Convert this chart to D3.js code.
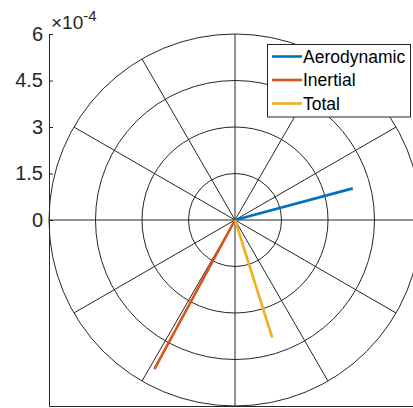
<!DOCTYPE html>
<html>
<head>
<meta charset="utf-8">
<script src="https://cdn.jsdelivr.net/npm/d3@7"></script>
<style>
  html, body { margin: 0; padding: 0; background: #fff; }
  svg { display: block; font-family: "Liberation Sans", Arial, Helvetica, sans-serif; }
</style>
</head>
<body>
<svg id="chart" width="413" height="408"></svg>
<script>
// Vector components (in units of 1e-4) for the compass plot
const seriesNames = ["Aerodynamic", "Inertial", "Total"];
const seriesColors = ["#0072BD", "#D95319", "#EDB120"];
const uComp = [3.80, -2.60, 1.20];   // horizontal components
const vComp = [1.02, -4.81, -3.79];  // vertical components
const exponentScale = 1e-4;

// Radial grid rings and their axis labels
const radialTicks = [0, 1.5, 3, 4.5, 6];
const radialTickLabels = ["0", "1.5", "3", "4.5", "6"];
const ringValues = [1.5, 3, 4.5, 6];
const spokeAngles = d3.range(0, 360, 30);
const rMax = 6;

const svg = d3.select("#chart");
const cx = 235, cy = 220, R = 186;

// Cartesian scales spanning the square axes box
const x = d3.scaleLinear().domain([-rMax * exponentScale, rMax * exponentScale]).range([cx - R, cx + R]);
const y = d3.scaleLinear().domain([-rMax * exponentScale, rMax * exponentScale]).range([cy + R, cy - R]);
const r = d3.scaleLinear().domain([0, rMax * exponentScale]).range([0, R]);

const grid = svg.append("g").attr("fill", "none").attr("stroke", "#262626").attr("stroke-width", 1);

// Concentric rings
grid.selectAll("circle.ring")
  .data(ringValues)
  .join("circle")
  .attr("class", "ring")
  .attr("cx", x(0))
  .attr("cy", y(0))
  .attr("r", d => r(d * exponentScale));

// Spokes every 30 degrees
grid.selectAll("line.spoke")
  .data(spokeAngles)
  .join("line")
  .attr("class", "spoke")
  .attr("x1", x(0))
  .attr("y1", y(0))
  .attr("x2", d => x(rMax * exponentScale * Math.cos(d * Math.PI / 180)))
  .attr("y2", d => y(rMax * exponentScale * Math.sin(d * Math.PI / 180)));

// Left axis with the radial tick labels
const yAxis = d3.axisLeft(y)
  .tickValues(radialTicks.map(d => d * exponentScale))
  .tickFormat((d, i) => radialTickLabels[i])
  .tickSizeInner(-4)
  .tickSizeOuter(0)
  .tickPadding(6);

const yAxisG = svg.append("g")
  .attr("transform", `translate(${x(-rMax * exponentScale)},0)`)
  .call(yAxis);
yAxisG.select(".domain").attr("stroke", "#262626");
yAxisG.selectAll(".tick line").attr("stroke", "#262626");
yAxisG.selectAll(".tick text")
  .attr("fill", "#262626")
  .style("font-size", "20px")
  .style("font-family", "'Liberation Sans', Arial, sans-serif");

// Bottom axis line
const xAxis = d3.axisBottom(x).tickValues([]).tickSizeOuter(0);
const xAxisG = svg.append("g")
  .attr("transform", `translate(0,${y(-rMax * exponentScale)})`)
  .call(xAxis);
xAxisG.select(".domain").attr("stroke", "#262626");

// Exponent label above the axis
const expLabel = svg.append("text")
  .attr("x", x(-rMax * exponentScale) + 2)
  .attr("y", y(rMax * exponentScale) - 5)
  .attr("fill", "#262626")
  .style("font-size", "19px");
expLabel.append("tspan").text("\u00d710");
expLabel.append("tspan")
  .attr("dy", -8)
  .style("font-size", "15px")
  .text("-4");

// Vectors from the origin
const vectors = seriesNames.map((name, i) => ({
  name, color: seriesColors[i], u: uComp[i] * exponentScale, v: vComp[i] * exponentScale
}));

svg.append("g")
  .selectAll("line.vec")
  .data(vectors)
  .join("line")
  .attr("class", "vec")
  .attr("x1", x(0))
  .attr("y1", y(0))
  .attr("x2", d => x(d.u))
  .attr("y2", d => y(d.v))
  .attr("stroke", d => d.color)
  .attr("stroke-width", 2.6)
  .attr("stroke-linecap", "butt");

// Legend
const legX = 267, legY = 44, legW = 143, rowH = 23.5;
const legend = svg.append("g");
legend.append("rect")
  .attr("x", legX + 0.5)
  .attr("y", legY + 0.5)
  .attr("width", legW)
  .attr("height", rowH * seriesNames.length + 2)
  .attr("fill", "#fff")
  .attr("stroke", "#262626")
  .attr("stroke-width", 1);

const rows = legend.selectAll("g.row")
  .data(vectors)
  .join("g")
  .attr("class", "row")
  .attr("transform", (d, i) => `translate(${legX},${legY + 12.5 + i * rowH})`);
rows.append("line")
  .attr("x1", 5).attr("x2", 35)
  .attr("y1", 0).attr("y2", 0)
  .attr("stroke", d => d.color)
  .attr("stroke-width", 2.6);
rows.append("text")
  .attr("x", 36)
  .attr("y", 0)
  .attr("dy", "0.35em")
  .attr("fill", "#000")
  .style("font-size", "17.5px")
  .text(d => d.name);
</script>
</body>
</html>
